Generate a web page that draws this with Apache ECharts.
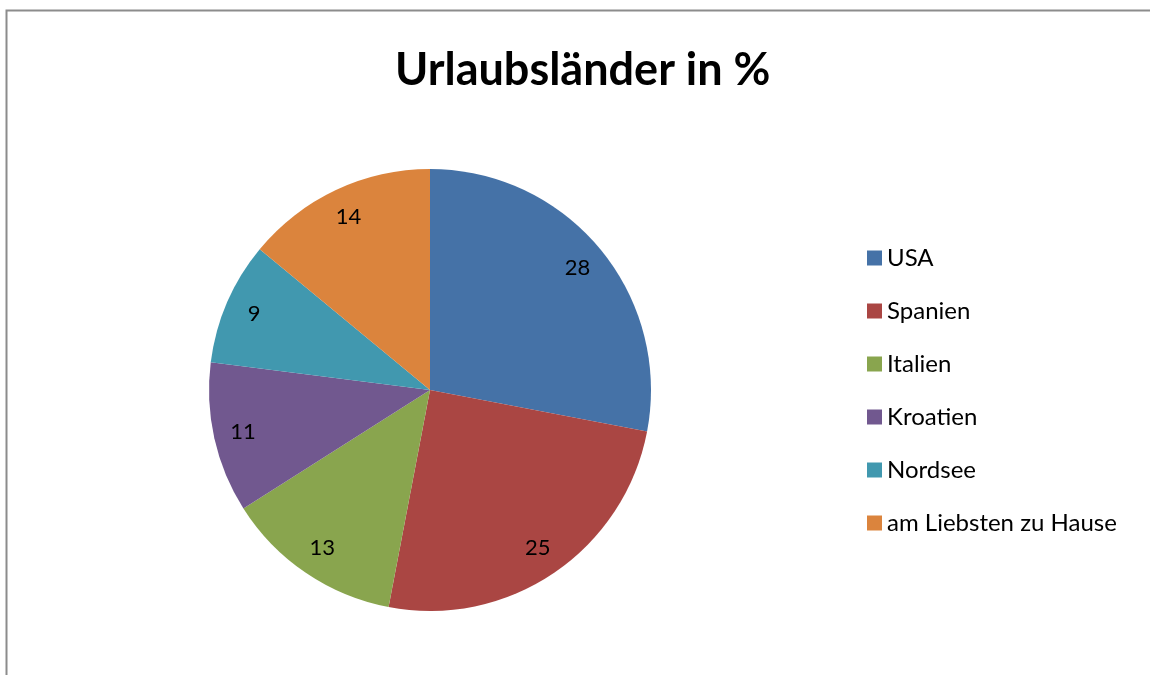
<!DOCTYPE html>
<html><head><meta charset="utf-8">
<script src="https://cdn.jsdelivr.net/npm/echarts@6/dist/echarts.min.js"></script>
<style>html,body{margin:0;padding:0;background:#fff}#c{width:1150px;height:675px}</style>
</head><body><div id="c"></div>
<script>
const categories = ['USA', 'Spanien', 'Italien', 'Kroatien', 'Nordsee', 'am Liebsten zu Hause'];
const values = [28, 25, 13, 11, 9, 14];
const colors = ['#4572A7', '#AA4643', '#89A54E', '#71588F', '#4198AF', '#DB843D'];
const titleText = 'Urlaubsländer in %';

const pieData = categories.map((n, i) => ({ name: n, value: values[i], itemStyle: { color: colors[i] } }));
const labelData = categories.map((n, i) => ({ name: n, value: values[i] }));
const FONT = 'Lato, "Open Sans", sans-serif';

const chart = echarts.init(document.getElementById('c'));
chart.setOption({
  animation: false,
  backgroundColor: '#fff',
  title: {
    text: titleText, left: 395, top: 48, padding: 0,
    textStyle: { fontFamily: FONT, fontSize: 45, fontWeight: 'bold', color: '#000' }
  },
  legend: {
    orient: 'vertical', left: 867, top: 246, padding: 0,
    data: categories,
    itemWidth: 15, itemHeight: 15, itemGap: 29, icon: 'rect',
    textStyle: { fontFamily: FONT, fontSize: 24, color: '#000' }
  },
  graphic: [{
    type: 'rect', silent: true, z: -1,
    shape: { x: 6.5, y: 10.5, width: 1200, height: 700 },
    style: { fill: 'none', stroke: '#8c8c8c', lineWidth: 2 }
  }],
  series: [{
    type: 'pie', center: [430, 390], radius: 221, startAngle: 90, clockwise: true,
    data: pieData, label: { show: false }, labelLine: { show: false },
    itemStyle: { borderWidth: 0 }
  }, {
    type: 'pie', center: [430, 390], radius: [165, 212], startAngle: 90, clockwise: true,
    data: labelData, silent: true, legendHoverLink: false,
    itemStyle: { color: 'rgba(0,0,0,0)', borderWidth: 0 },
    label: { show: true, position: 'inside', formatter: '{c}', fontFamily: FONT, fontSize: 22, color: '#000' },
    labelLine: { show: false }, emphasis: { disabled: true }
  }]
});
</script></body></html>
